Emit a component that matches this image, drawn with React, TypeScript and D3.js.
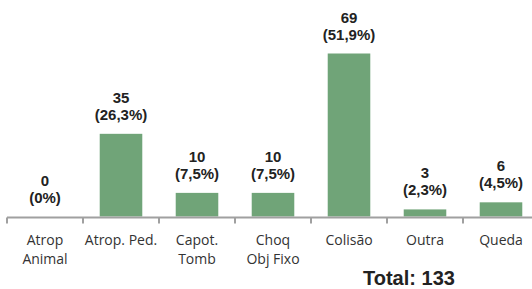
import React, { useRef, useEffect } from 'react';
import * as d3 from 'd3';

const CATEGORIES = [
    ["Atrop", "Animal"],
    ["Atrop. Ped."],
    ["Capot.", "Tomb"],
    ["Choq", "Obj Fixo"],
    ["Colisão"],
    ["Outra"],
    ["Queda"],
];
const VALUES = [0, 35, 10, 10, 69, 3, 6];
const PERCENTS = ["0%", "26,3%", "7,5%", "7,5%", "51,9%", "2,3%", "4,5%"];
const TOTAL = 133;

const WIDTH = 532;
const HEIGHT = 289;

const App: React.FC = () => {
    const svgRef = useRef<SVGSVGElement>(null);

    useEffect(() => {
        if (!svgRef.current) return;
        const svg = d3.select(svgRef.current);
        svg.selectAll("*").remove();

        const keys = CATEGORIES.map((_, i) => String(i));
        const x = d3.scaleBand()
            .domain(keys)
            .range([7, 539])
            .paddingInner(0.44)
            .paddingOuter(0.22);
        const step = x.step();

        const y = d3.scaleLinear()
            .domain([0, 69])
            .range([216.5, 53.5]);

        svg.append("g")
            .selectAll("rect")
            .data(VALUES)
            .join("rect")
            .attr("x", (_, i) => x(String(i))!)
            .attr("y", d => y(d))
            .attr("width", x.bandwidth())
            .attr("height", d => y(0) - y(d))
            .attr("fill", "#70a478");

        // axis line and ticks at band boundaries
        const axis = svg.append("g").attr("stroke", "#a0a0a0").attr("stroke-width", 2);
        axis.append("line")
            .attr("x1", 7).attr("x2", 540)
            .attr("y1", y(0) + 1).attr("y2", y(0) + 1);
        axis.selectAll("line.tick")
            .data(d3.range(CATEGORIES.length + 1))
            .join("line")
            .attr("class", "tick")
            .attr("x1", i => 7 + i * step)
            .attr("x2", i => 7 + i * step)
            .attr("y1", y(0) + 1)
            .attr("y2", y(0) + 7);

        const labels = svg.append("g")
            .attr("font-family", "'Liberation Sans', Arial, sans-serif")
            .attr("font-weight", "bold")
            .attr("font-size", 15)
            .attr("fill", "#222")
            .attr("text-anchor", "middle");

        VALUES.forEach((v, i) => {
            const cx = x(String(i))! + x.bandwidth() / 2;
            labels.append("text")
                .attr("x", cx)
                .attr("y", y(v) - 31)
                .text(String(v));
            labels.append("text")
                .attr("x", cx)
                .attr("y", y(v) - 14)
                .text(`(${PERCENTS[i]})`);
        });

        const cats = svg.append("g")
            .attr("font-family", "'Open Sans', sans-serif")
            .attr("font-size", 14)
            .attr("fill", "#333")
            .attr("text-anchor", "middle");

        CATEGORIES.forEach((lines, i) => {
            const cx = x(String(i))! + x.bandwidth() / 2;
            lines.forEach((line, j) => {
                cats.append("text")
                    .attr("x", cx)
                    .attr("y", 245 + j * 19)
                    .text(line);
            });
        });

        svg.append("text")
            .attr("x", 363)
            .attr("y", 285)
            .attr("font-family", "'Liberation Sans', Arial, sans-serif")
            .attr("font-weight", "bold")
            .attr("font-size", 20)
            .attr("fill", "#222")
            .text(`Total: ${TOTAL}`);
    }, []);

    return (
        <svg
            ref={svgRef}
            width={WIDTH}
            height={HEIGHT}
            style={{ position: 'absolute', left: 0, top: 0, background: '#fff' }}
        />
    );
};

export default App;
